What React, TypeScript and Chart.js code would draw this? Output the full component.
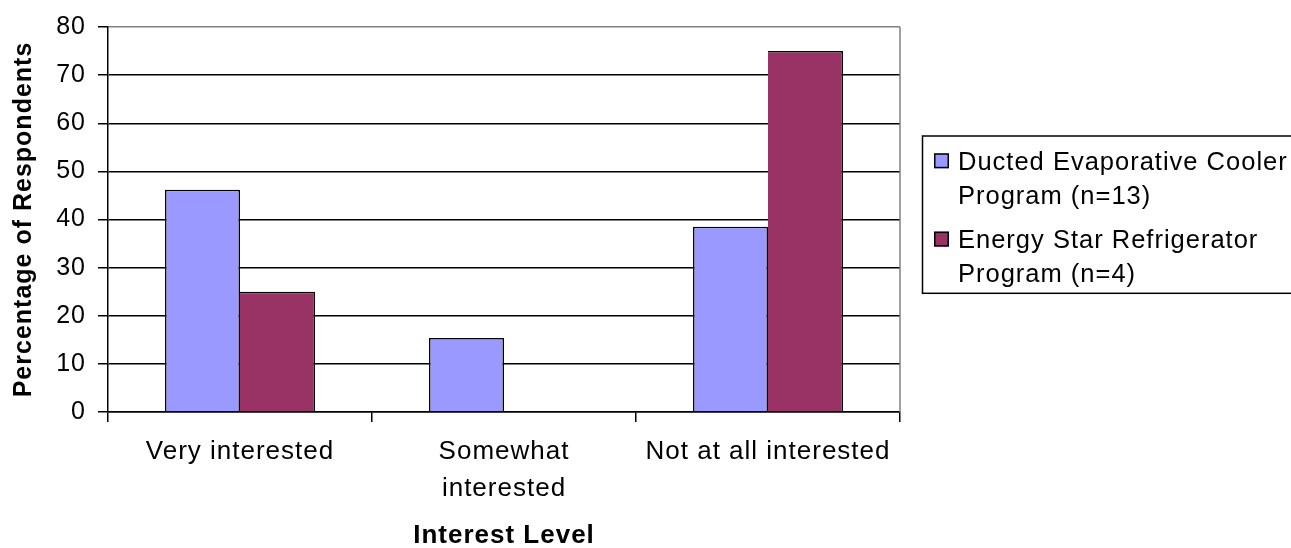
import { useEffect, useRef } from 'react';
import { Chart, registerables } from 'chart.js';

Chart.register(...registerables);

// Survey results: share of respondents by interest level
const categories: (string | string[])[] = ['Very interested', ['Somewhat', 'interested'], 'Not at all interested'];
const ductedValues = [46.2, 15.4, 38.5];
const energyStarValues = [25, 0, 75];
const seriesLegendLines = [
  ['Ducted Evaporative Cooler', 'Program (n=13)'],
  ['Energy Star Refrigerator', 'Program (n=4)'],
];
const seriesColors = ['#9999FF', '#993366'];
const yMin = 0;
const yMax = 80;
const yStep = 10;
const yTitle = 'Percentage of Respondents';
const xTitle = 'Interest Level';

const FONT = "'Liberation Sans', Arial, Helvetica, sans-serif";

// Draws the boxed legend at the right and the grey frame edge of the plot area.
const framePlugin = {
  id: 'frameAndLegend',
  beforeDraw(chart: any) {
    chart.ctx.letterSpacing = '1px';
  },
  afterDatasetsDraw(chart: any) {
    chart.ctx.letterSpacing = '1px';
  },
  afterDraw(chart: any) {
    const { ctx, chartArea } = chart;
    ctx.save();
    ctx.strokeStyle = '#808080';
    ctx.lineWidth = 1.5;
    ctx.beginPath();
    ctx.moveTo(chartArea.right, chartArea.top);
    ctx.lineTo(chartArea.right, chartArea.bottom);
    ctx.stroke();

    // legend frame
    const boxLeft = 922.5;
    const boxTop = 136;
    const boxBottom = 293.3;
    ctx.strokeStyle = '#000';
    ctx.lineWidth = 1.5;
    ctx.strokeRect(boxLeft, boxTop, chart.width - boxLeft + 10, boxBottom - boxTop);

    ctx.letterSpacing = '1px';
    ctx.font = `25.5px ${FONT}`;
    ctx.textAlign = 'left';
    ctx.textBaseline = 'alphabetic';
    chart.data.datasets.forEach((ds: any, i: number) => {
      const base = 170 + i * 78.3;
      const mx = 934;
      const my = base - 16.7;
      ctx.fillStyle = ds.backgroundColor;
      ctx.fillRect(mx, my, 15, 15);
      ctx.strokeStyle = '#000';
      ctx.lineWidth = 1.5;
      ctx.strokeRect(mx + 0.75, my + 0.75, 13.5, 13.5);
      ctx.fillStyle = '#000';
      seriesLegendLines[i].forEach((line, j) => {
        ctx.fillText(line, 958, base + j * 33.5);
      });
    });
    ctx.restore();
  },
};

export default function App() {
  const canvasRef = useRef<HTMLCanvasElement | null>(null);

  useEffect(() => {
    const canvas = canvasRef.current;
    if (!canvas) return;
    Chart.defaults.font.family = FONT;
    Chart.defaults.color = '#000';

    const chart = new Chart(canvas, {
      type: 'bar',
      data: {
        labels: categories as any,
        datasets: [
          {
            label: seriesLegendLines[0].join(' '),
            data: ductedValues,
            backgroundColor: seriesColors[0],
            borderColor: '#000',
            borderWidth: { top: 1.5, left: 1.5, right: 1.5, bottom: 0 } as any,
            barPercentage: 1,
            categoryPercentage: 0.568,
          },
          {
            label: seriesLegendLines[1].join(' '),
            data: energyStarValues,
            backgroundColor: seriesColors[1],
            borderColor: '#000',
            borderWidth: { top: 1.5, left: 0, right: 1.5, bottom: 0 } as any,
            barPercentage: 1,
            categoryPercentage: 0.568,
          },
        ],
      },
      options: {
        animation: false,
        responsive: false,
        events: [],
        layout: { padding: { left: 0, right: 391, top: 22, bottom: 0 } },
        plugins: {
          legend: { display: false },
          tooltip: { enabled: false },
          title: { display: false },
        },
        scales: {
          x: {
            type: 'category',
            offset: true,
            grid: {
              offset: true,
              drawOnChartArea: false,
              drawTicks: true,
              tickLength: 10,
              color: '#000',
              lineWidth: 1.5,
            },
            border: { display: true, color: '#000', width: 1.5 },
            ticks: {
              z: 1,
              color: '#000',
              padding: 12,
              autoSkip: false,
              maxRotation: 0,
              minRotation: 0,
              font: { size: 26, lineHeight: 1.4 },
            },
            title: {
              display: true,
              text: xTitle,
              color: '#000',
              font: { size: 26, weight: 'bold', lineHeight: 0.9 },
              padding: { top: 0, bottom: 0 },
            },
            afterFit(scale: any) {
              scale.height = 136;
            },
          },
          y: {
            min: yMin,
            max: yMax,
            grid: {
              color: (c: any) => (c.tick && c.tick.value === yMax ? '#808080' : '#000'),
              tickColor: '#000',
              lineWidth: 1.5,
              drawTicks: true,
              tickLength: 10,
            },
            border: { display: true, color: '#000', width: 1.5 },
            ticks: {
              z: 1,
              stepSize: yStep,
              color: '#000',
              padding: 12,
              font: { size: 25 },
            },
            title: {
              display: true,
              text: yTitle,
              color: '#000',
              font: { size: 25, weight: 'bold', lineHeight: 1.2 },
              padding: { top: 9, bottom: 0 },
            },
            afterFit(scale: any) {
              scale.width = 108;
            },
          },
        },
      } as any,
      plugins: [framePlugin],
    });

    return () => {
      chart.destroy();
    };
  }, []);

  return (
    <div style={{ position: 'absolute', left: 0, top: 0, width: 1291, height: 548, background: '#fff' }}>
      <canvas ref={canvasRef} width={1291} height={548} />
    </div>
  );
}
